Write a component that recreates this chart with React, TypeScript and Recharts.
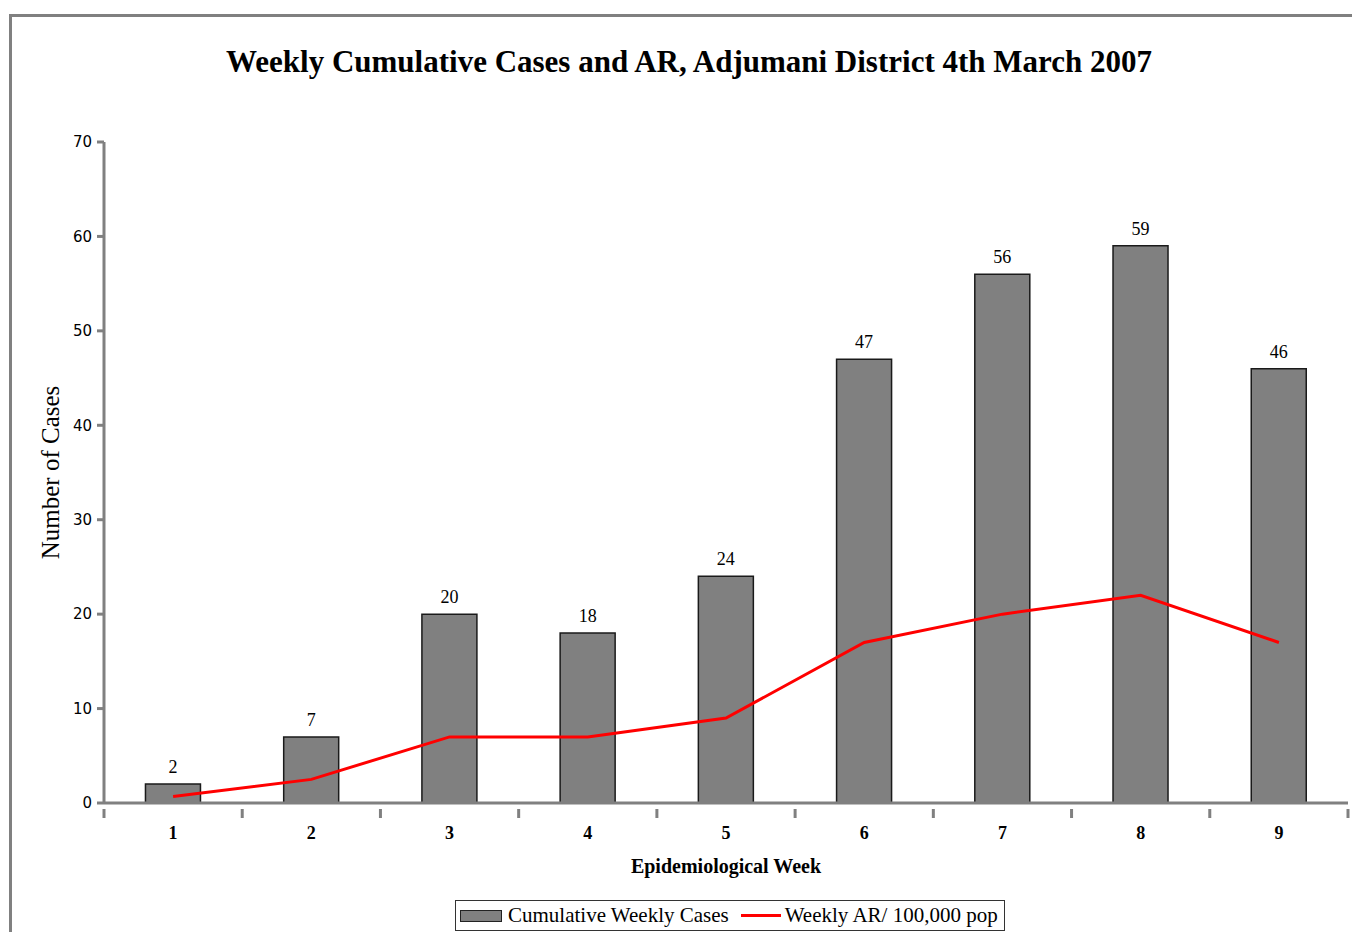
import React from "react";
import {
  ComposedChart,
  Bar,
  Line,
  XAxis,
  YAxis,
  LabelList,
} from "recharts";

const weeks = ["1", "2", "3", "4", "5", "6", "7", "8", "9"];
const cumulativeCases = [2, 7, 20, 18, 24, 47, 56, 59, 46];
const weeklyAR = [0.7, 2.5, 7, 7, 9, 17, 20, 22, 17];
const yTicks = [0, 10, 20, 30, 40, 50, 60, 70];

const data = weeks.map((w, i) => ({
  week: w,
  cases: cumulativeCases[i],
  ar: weeklyAR[i],
}));

const W = 1352;
const H = 932;
const M = { top: 142, right: 4, left: 44, bottom: 99 };
const Y_AXIS_W = 60;
const plotW = W - M.left - M.right - Y_AXIS_W;
const step = plotW / weeks.length;

const serif = "'Liberation Serif', 'DejaVu Serif', serif";
const sans = "'DejaVu Sans', sans-serif";

const XTick = ({ x, y, payload, index }: any) => {
  const last = index === weeks.length - 1;
  return (
    <g>
      <line x1={x - step / 2} y1={y - 2} x2={x - step / 2} y2={y + 7} stroke="#808080" strokeWidth={3} />
      {last && (
        <line x1={x + step / 2} y1={y - 2} x2={x + step / 2} y2={y + 7} stroke="#808080" strokeWidth={3} />
      )}
      <text x={x} y={y + 24} textAnchor="middle" dominantBaseline="middle" fontFamily={serif} fontWeight="bold" fontSize={18} fill="#000">
        {payload.value}
      </text>
    </g>
  );
};

const LegendBox = () => (
  <div
    style={{
      position: "absolute",
      left: 455,
      top: 900,
      display: "flex",
      alignItems: "center",
      border: "1px solid #333",
      background: "#fff",
      padding: "2px 6px 2px 4px",
      fontFamily: serif,
      fontSize: 21,
      color: "#000",
      whiteSpace: "nowrap",
    }}
  >
    <span style={{ display: "inline-block", width: 40, height: 10, background: "#808080", border: "1px solid #222", marginRight: 6 }} />
    <span>Cumulative Weekly Cases</span>
    <span style={{ display: "inline-block", width: 40, height: 3, background: "#ff0000", margin: "0 4px 0 12px" }} />
    <span>Weekly AR/ 100,000 pop</span>
  </div>
);

export default function App() {
  return (
    <div style={{ position: "absolute", left: 0, top: 0, width: W, height: H, overflow: "hidden", background: "#fff" }}>
      <div
        style={{
          position: "absolute",
          left: 9,
          top: 14,
          width: 1400,
          height: 1000,
          border: "3px solid #808080",
          boxSizing: "border-box",
        }}
      />
      <div
        style={{
          position: "absolute",
          left: 0,
          top: 44,
          width: 1378,
          textAlign: "center",
          fontFamily: serif,
          fontWeight: "bold",
          fontSize: 31,
          color: "#000",
        }}
      >
        Weekly Cumulative Cases and AR, Adjumani District 4th March 2007
      </div>
      <div style={{ position: "absolute", left: 0, top: 0 }}>
        <ComposedChart width={W} height={H} data={data} margin={M} barCategoryGap="30%">
          <XAxis
            dataKey="week"
            axisLine={{ stroke: "#808080", strokeWidth: 3 }}
            tickLine={false}
            tick={<XTick />}
            height={30}
            interval={0}
            label={{
              value: "Epidemiological Week",
              position: "insideBottom",
              offset: -40,
              fontFamily: serif,
              fontWeight: "bold",
              fontSize: 20,
              fill: "#000",
            }}
          />
          <YAxis
            width={Y_AXIS_W}
            domain={[0, 70]}
            ticks={yTicks}
            interval={0}
            axisLine={{ stroke: "#808080", strokeWidth: 3 }}
            tickLine={{ stroke: "#808080", strokeWidth: 3 }}
            tickSize={7}
            tickMargin={5}
            tick={{ fontFamily: sans, fontSize: 15, fill: "#000" }}
            label={{
              value: "Number of Cases",
              angle: -90,
              position: "insideLeft",
              offset: -(M.left - 50),
              dx: 0,
              style: { textAnchor: "middle" },
              fontFamily: serif,
              fontSize: 25,
              fill: "#000",
            }}
          />
          <Bar dataKey="cases" name="Cumulative Weekly Cases" fill="#808080" stroke="#1a1a1a" strokeWidth={1.5} isAnimationActive={false}>
            <LabelList dataKey="cases" position="top" offset={11} fontFamily={serif} fontSize={18} fill="#000" />
          </Bar>
          <Line dataKey="ar" name="Weekly AR/ 100,000 pop" type="linear" stroke="#ff0000" strokeWidth={3} dot={false} isAnimationActive={false} />
        </ComposedChart>
      </div>
      <LegendBox />
    </div>
  );
}
